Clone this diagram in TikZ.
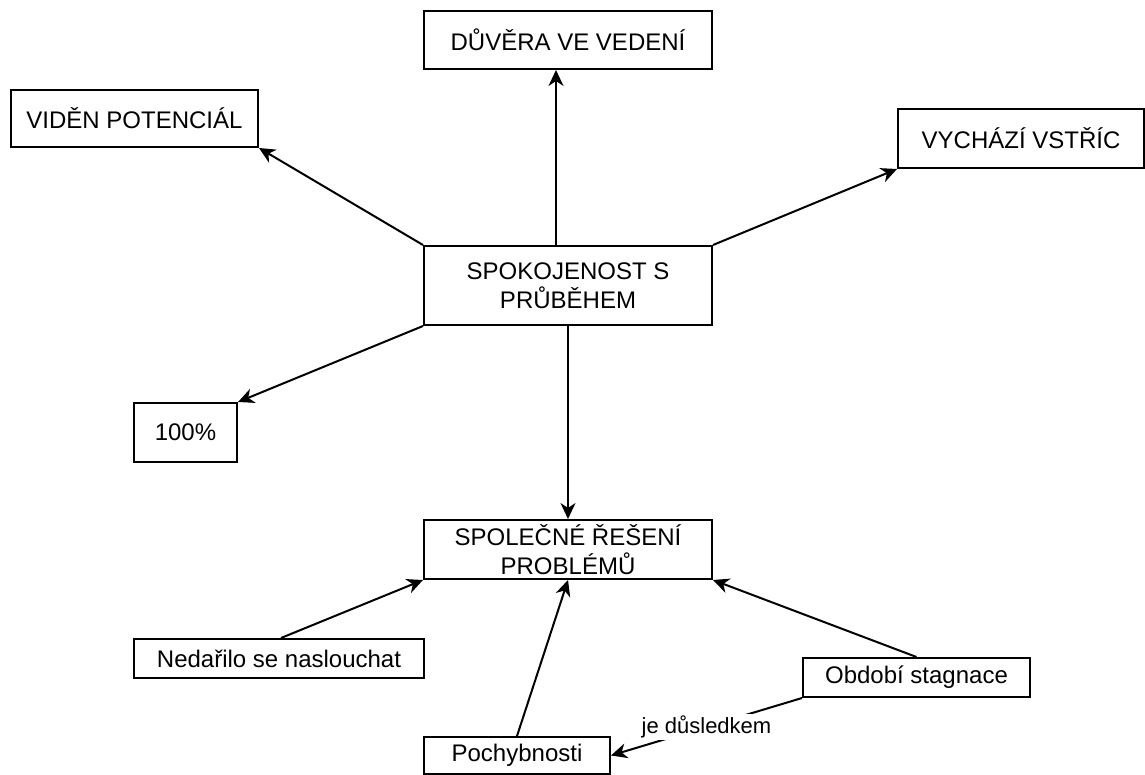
\documentclass[tikz,border=0pt]{standalone}
\usepackage{fontspec}
\setmainfont{Liberation Sans}
\usetikzlibrary{arrows.meta}
\pgfdeclarelayer{bg}
\pgfsetlayers{bg,main}
\tikzset{
    every node/.style={rectangle, draw, line width=1pt, inner sep=0mm, align=center,
        font=\fontsize{12pt}{14.4pt}\selectfont}
}
\tikzset{arr/.style={line width=1pt, -{Stealth[length=8pt, width=7.5pt, inset=2.5pt]}}}
\tikzset{lbl/.style={draw=none, fill=white, inner sep=1pt, font=\fontsize{11pt}{13pt}\selectfont}}

\begin{document}
\begin{tikzpicture}[x=0.5pt, y=-0.5pt]
        \useasboundingbox (0,0) rectangle (1145,775);
        \node (duv) [minimum width=144pt, minimum height=29pt] at (568, 40) {DŮVĚRA VE VEDENÍ};
        \node (vid) [minimum width=123.5pt, minimum height=28.5pt] at (134.5, 118.5) {VIDĚN POTENCIÁL};
        \node (vych) [minimum width=123pt, minimum height=29.5pt] at (1021, 138.5) {VYCHÁZÍ VSTŘÍC};
        \node (spok) [minimum width=144pt, minimum height=39.5pt] at (568, 285.5) {SPOKOJENOST S\\PRŮBĚHEM};
        \node (sto) [minimum width=51.5pt, minimum height=29.5pt] at (185.5, 432.5) {100\%};
        \node (spol) [minimum width=144pt, minimum height=29.5pt] at (568, 549.5) {SPOLEČNÉ ŘEŠENÍ\\PROBLÉMŮ};
        \node (ned) [minimum width=145pt, minimum height=19.5pt] at (279, 658.5) {Nedařilo se naslouchat};
        \node (obd) [minimum width=113.5pt, minimum height=19.5pt] at (916.5, 677.5) {Období stagnace};
        \node (poch) [minimum width=93pt, minimum height=18.5pt] at (517, 755.5) {Pochybnosti};
        \begin{pgfonlayer}{bg}
                \draw ([xshift=-6pt]spok.north) edge [arr] ([xshift=-6pt]duv.south);
                \draw (spok.north west) edge [arr] (vid.south east);
                \draw (spok.north east) edge [arr] (vych.south west);
                \draw (spok.south west) edge [arr] (sto.north east);
                \draw (spok.south) edge [arr] (spol.north);
                \draw ([xshift=1pt]ned.north) edge [arr] (spol.south west);
                \draw (poch.north) edge [arr] (spol.south);
                \draw (obd.north) edge [arr] (spol.south east);
                \draw (obd.south west) edge [arr] node [lbl] {je důsledkem} (poch.east);
        \end{pgfonlayer}
\end{tikzpicture}
\end{document}
